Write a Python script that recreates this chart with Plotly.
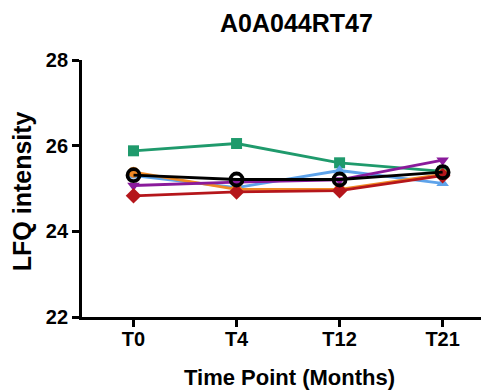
import plotly.graph_objects as go

time_points = ["T0", "T4", "T12", "T21"]
green_vals = [25.88, 26.05, 25.60, 25.40]
blue_vals = [25.30, 25.02, 25.42, 25.12]
orange_vals = [25.38, 24.98, 24.98, 25.33]
purple_vals = [25.07, 25.15, 25.20, 25.66]
red_vals = [24.83, 24.92, 24.95, 25.30]
black_vals = [25.31, 25.21, 25.21, 25.38]

series = [
    ("green", green_vals, "#1f9a6c", "square", 11),
    ("blue", blue_vals, "#5ea3ea", "triangle-up", 11),
    ("orange", orange_vals, "#f08a24", "circle", 11),
    ("purple", purple_vals, "#8a1a9b", "triangle-down", 11),
    ("red", red_vals, "#b5161b", "diamond", 12),
]

fig = go.Figure()
for name, vals, color, sym, sz in series:
    fig.add_trace(go.Scatter(
        x=time_points, y=vals, mode="lines+markers", name=name,
        line=dict(color=color, width=2.8),
        marker=dict(symbol=sym, size=sz, color=color),
    ))
fig.add_trace(go.Scatter(
    x=time_points, y=black_vals, mode="lines+markers", name="black",
    line=dict(color="black", width=2.8),
    marker=dict(symbol="circle-open", size=12, color="black", line=dict(width=3.8, color="black")),
))

font_fam = "Liberation Sans, Arial, sans-serif"
fig.update_layout(
    width=481, height=384,
    margin=dict(l=74, r=0, t=52, b=75),
    paper_bgcolor="white", plot_bgcolor="white",
    showlegend=False,
    font=dict(family=font_fam, color="black"),
    annotations=[
        dict(text="<b>A0A044RT47</b>", xref="paper", yref="paper", x=0.528, y=1.0 + 53/257,
             xanchor="center", yanchor="top", showarrow=False,
             font=dict(size=25, family=font_fam, color="black")),
        dict(text="<b>Time Point (Months)</b>", xref="paper", yref="paper", x=0.511, y=-0.237,
             xanchor="center", yanchor="middle", showarrow=False,
             font=dict(size=22, family=font_fam, color="black")),
        dict(text="<b>LFQ intensity</b>", xref="paper", yref="paper", x=-0.147, y=0.49,
             xanchor="center", yanchor="middle", showarrow=False, textangle=-90,
             font=dict(size=25, family=font_fam, color="black")),
    ],
)
fig.update_xaxes(
    type="category", range=[-0.5, 3.45],
    showline=True, linecolor="black", linewidth=2.8,
    ticks="outside", ticklen=7, tickwidth=2.5, tickcolor="black",
    showgrid=False, zeroline=False, ticklabelstandoff=-5,
    tickfont=dict(size=20, family=font_fam, weight="bold"),
)
fig.update_yaxes(
    range=[22, 28], tickvals=[22, 24, 26, 28],
    showline=True, linecolor="black", linewidth=2.8,
    ticks="outside", ticklen=7, tickwidth=2.5, tickcolor="black",
    showgrid=False, zeroline=False,
    tickfont=dict(size=20, family=font_fam, weight="bold"),
)
fig.write_html("out.html")
